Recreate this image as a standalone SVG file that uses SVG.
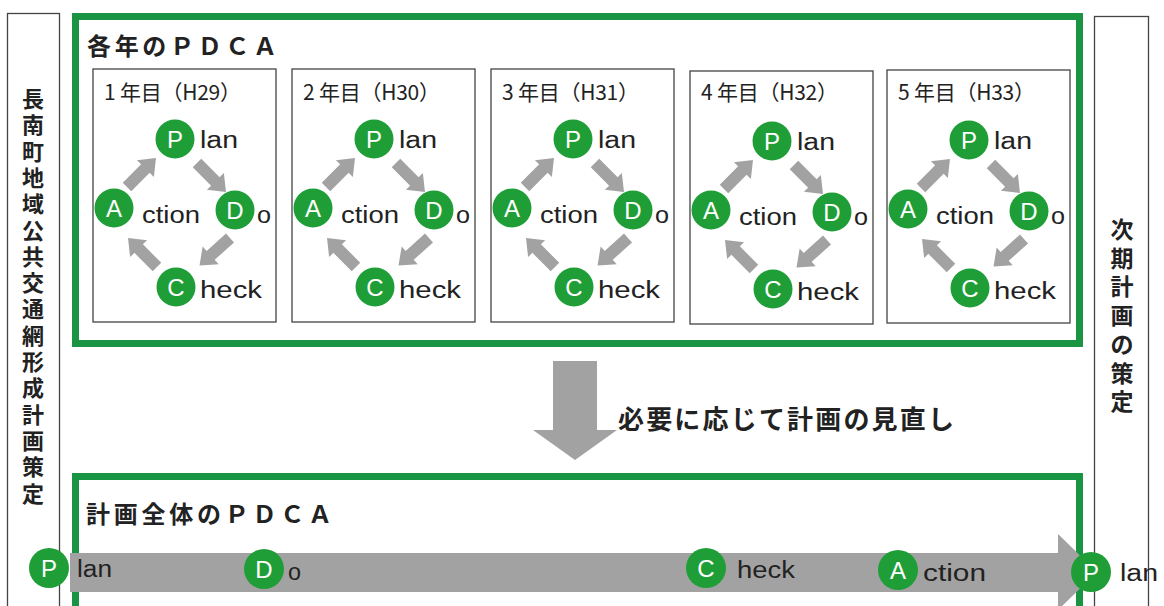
<svg xmlns="http://www.w3.org/2000/svg" xmlns:xlink="http://www.w3.org/1999/xlink" width="1164" height="606" viewBox="0 0 1164 606">
<style>
.frame{fill:none;stroke:#199443;stroke-width:7}
.col{fill:#fff;stroke:#444;stroke-width:1.3}
.ybox{fill:#fff;stroke:#444;stroke-width:1.3}
.dot{fill:#1f9e38}
.ltr{font-family:"Liberation Sans",Arial,sans-serif;font-size:24px;fill:#fff;text-anchor:middle}
.word{font-family:"Liberation Sans",Arial,sans-serif;font-size:23px;fill:#222}
.ylab{font-family:"Noto Sans CJK JP",sans-serif;font-size:21px;fill:#222}
.ttl{font-family:"Noto Sans CJK JP",sans-serif;font-size:24px;font-weight:bold;fill:#222}
.vt{font-family:"Noto Sans CJK JP",sans-serif;font-size:22px;font-weight:bold;fill:#222;text-anchor:middle}
.garrow{fill:#a2a2a2}
</style>
<defs>
<path id="ca" d="M0,-6 L26,-6 L26,-12 L41,0 L26,12 L26,6 L0,6 Z"/>
<g id="cyc">
<rect class="ybox" x="0" y="69" width="183" height="253"/>
<g class="garrow">
<use xlink:href="#ca" transform="translate(34,187) rotate(-45)"/>
<use xlink:href="#ca" transform="translate(104,163) rotate(45)"/>
<use xlink:href="#ca" transform="translate(137,238) rotate(138)"/>
<use xlink:href="#ca" transform="translate(64,267) rotate(225)"/>
</g>
<circle class="dot" cx="82" cy="139" r="19.5"/>
<circle class="dot" cx="21" cy="208" r="19.5"/>
<circle class="dot" cx="142" cy="210" r="19.5"/>
<circle class="dot" cx="83" cy="287" r="19.5"/>
<text class="ltr" x="82" y="148">P</text>
<text class="ltr" x="21" y="217">A</text>
<text class="ltr" x="142" y="219">D</text>
<text class="ltr" x="83" y="296">C</text>
<text class="word" x="107" y="148" textLength="38" lengthAdjust="spacingAndGlyphs">lan</text>
<text class="word" x="49" y="223" textLength="58" lengthAdjust="spacingAndGlyphs">ction</text>
<text class="word" x="164" y="223" textLength="14" lengthAdjust="spacingAndGlyphs">o</text>
<text class="word" x="107" y="298" textLength="62" lengthAdjust="spacingAndGlyphs">heck</text>
</g>
</defs>
<rect width="1164" height="606" fill="#fff"/>

<g id="left-column">
<rect class="col" x="7.5" y="13.5" width="52" height="610"/>
<text class="vt">
<tspan x="33" y="107">長</tspan><tspan x="33" y="133.3">南</tspan><tspan x="33" y="159.6">町</tspan><tspan x="33" y="185.9">地</tspan><tspan x="33" y="212.2">域</tspan><tspan x="33" y="238.5">公</tspan><tspan x="33" y="264.8">共</tspan><tspan x="33" y="291.1">交</tspan><tspan x="33" y="317.4">通</tspan><tspan x="33" y="343.7">網</tspan><tspan x="33" y="370">形</tspan><tspan x="33" y="396.3">成</tspan><tspan x="33" y="422.6">計</tspan><tspan x="33" y="448.9">画</tspan><tspan x="33" y="475.2">策</tspan><tspan x="33" y="501.5">定</tspan>
</text>
</g>

<g id="right-column">
<rect class="col" x="1094.5" y="16.5" width="54" height="610"/>
<text class="vt" style="font-size:23px">
<tspan x="1122" y="238">次</tspan><tspan x="1122" y="266.7">期</tspan><tspan x="1122" y="295.4">計</tspan><tspan x="1122" y="324.1">画</tspan><tspan x="1122" y="352.8">の</tspan><tspan x="1122" y="381.5">策</tspan><tspan x="1122" y="410.2">定</tspan>
</text>
</g>

<g id="yearly-pdca">
<rect class="frame" x="75.5" y="16.5" width="1004" height="327"/>
<text class="ttl" x="87" y="55" textLength="190" lengthAdjust="spacing">各年のＰＤＣＡ</text>
</g>

<g id="year1" transform="translate(93,0)"><use xlink:href="#cyc"/><text class="ylab" x="11" y="100" textLength="137" lengthAdjust="spacing">1 年目（H29）</text></g>
<g id="year2" transform="translate(292,0)"><use xlink:href="#cyc"/><text class="ylab" x="11" y="100" textLength="137" lengthAdjust="spacing">2 年目（H30）</text></g>
<g id="year3" transform="translate(491,0)"><use xlink:href="#cyc"/><text class="ylab" x="11" y="100" textLength="137" lengthAdjust="spacing">3 年目（H31）</text></g>
<g id="year4" transform="translate(690,2)"><use xlink:href="#cyc"/><text class="ylab" x="11" y="98" textLength="137" lengthAdjust="spacing">4 年目（H32）</text></g>
<g id="year5" transform="translate(887,1)"><use xlink:href="#cyc"/><text class="ylab" x="11" y="99" textLength="137" lengthAdjust="spacing">5 年目（H33）</text></g>

<g id="review-note">
<text class="ttl" x="618" y="429" style="font-size:26px" textLength="336" lengthAdjust="spacing">必要に応じて計画の見直し</text>
</g>

<g id="overall-pdca">
<rect class="frame" x="75.5" y="476.5" width="1004" height="160"/>
<text class="ttl" x="86" y="523" textLength="246" lengthAdjust="spacing">計画全体のＰＤＣＡ</text>
</g>

<g id="connectors">
<path class="garrow" d="M553,361 L597,361 L597,430 L617,430 L575,460 L533,430 L553,430 Z"/>
<path class="garrow" d="M70,553 L1058,553 L1058,534 L1097,572 L1058,610 L1058,592 L70,592 Z"/>
</g>

<g id="overall-steps">
<circle class="dot" cx="49" cy="568" r="20"/><text class="ltr" x="49" y="577">P</text><text class="word" x="77" y="577" textLength="35" lengthAdjust="spacingAndGlyphs">lan</text>
<circle class="dot" cx="264" cy="569" r="20"/><text class="ltr" x="264" y="578">D</text><text class="word" x="288" y="580" textLength="13" lengthAdjust="spacingAndGlyphs">o</text>
<circle class="dot" cx="706" cy="568" r="20"/><text class="ltr" x="706" y="577">C</text><text class="word" x="737" y="578" textLength="58" lengthAdjust="spacingAndGlyphs">heck</text>
<circle class="dot" cx="898" cy="570" r="20"/><text class="ltr" x="898" y="579">A</text><text class="word" x="923" y="581" textLength="63" lengthAdjust="spacingAndGlyphs">ction</text>
<circle class="dot" cx="1091" cy="572" r="20"/><text class="ltr" x="1091" y="581">P</text><text class="word" x="1120" y="581" textLength="38" lengthAdjust="spacingAndGlyphs">lan</text>
</g>
</svg>
